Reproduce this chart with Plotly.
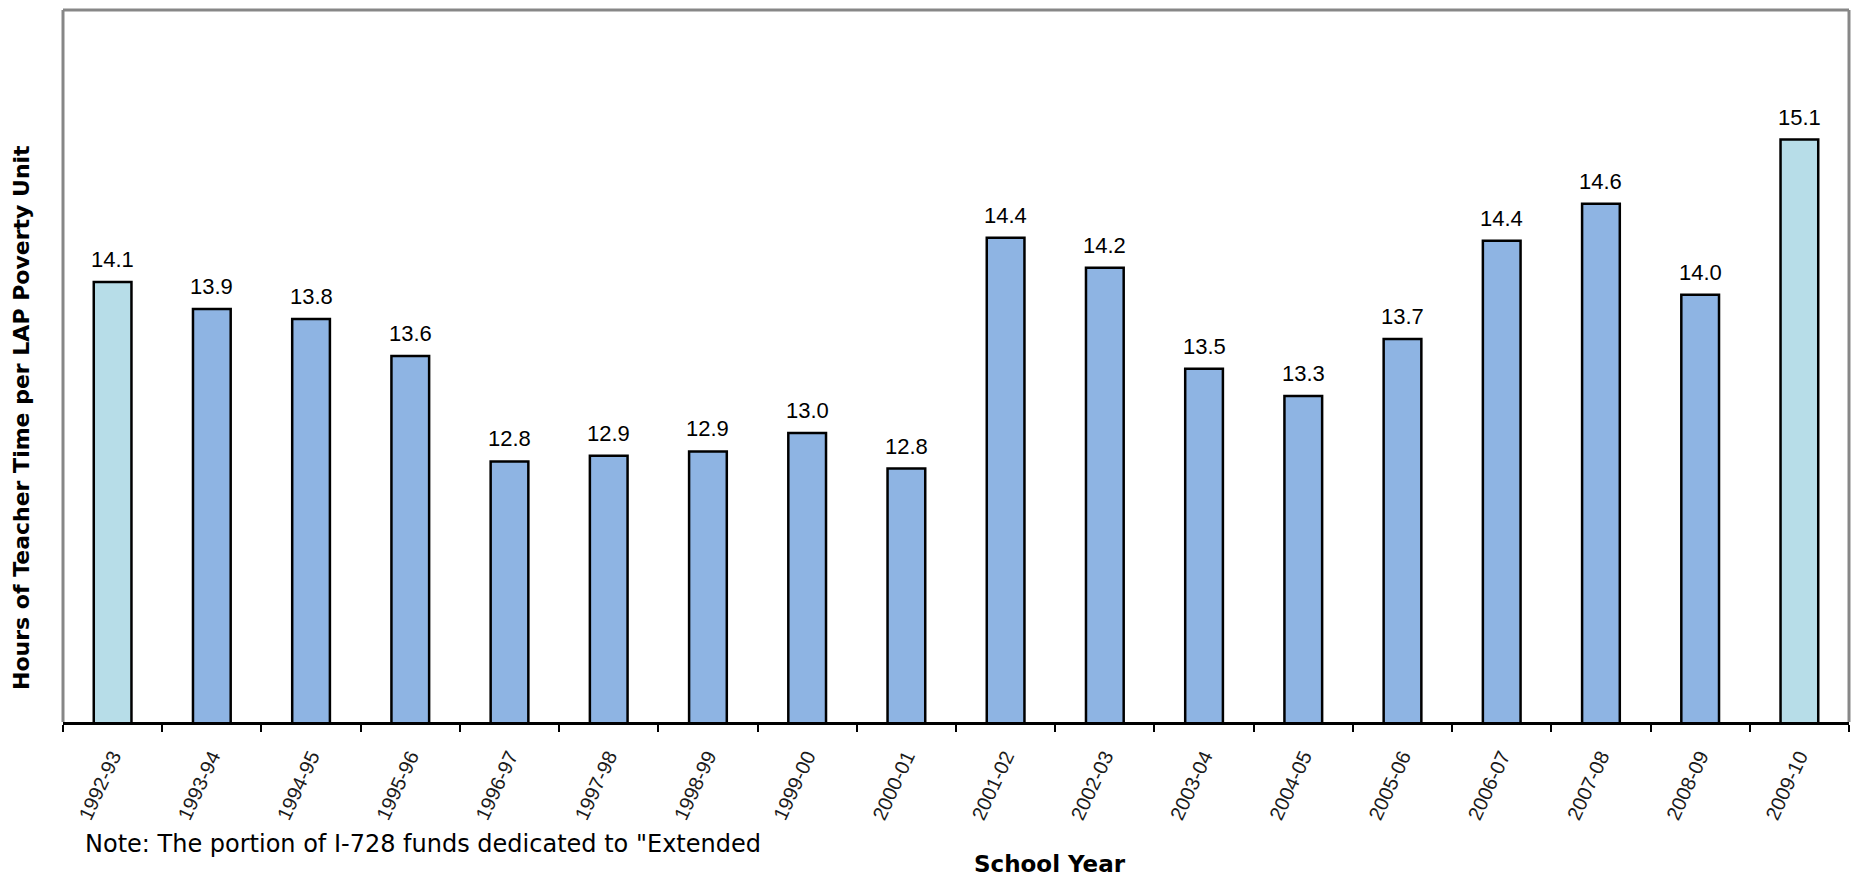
import plotly.graph_objects as go

# School years on the category axis
years = ["1992-93", "1993-94", "1994-95", "1995-96", "1996-97", "1997-98",
         "1998-99", "1999-00", "2000-01", "2001-02", "2002-03", "2003-04",
         "2004-05", "2005-06", "2006-07", "2007-08", "2008-09", "2009-10"]

# Hours of teacher time per LAP poverty unit
hours = [14.09, 13.90, 13.83, 13.57, 12.83, 12.87, 12.90, 13.03, 12.78,
         14.40, 14.19, 13.48, 13.29, 13.69, 14.38, 14.64, 14.00, 15.09]

# Years drawn in the lighter highlight colour
highlight_years = ["1992-93", "2009-10"]

BLUE = "#8EB4E3"
LIGHT = "#B7DDE8"
FONT = "Liberation Sans, Arial, sans-serif"
WIDE = "DejaVu Sans, Verdana, sans-serif"

colors = [LIGHT if y in highlight_years else BLUE for y in years]

fig = go.Figure()
fig.add_trace(go.Bar(
    x=years,
    y=hours,
    width=0.38,
    marker=dict(color=colors, line=dict(color="black", width=2.5)),
    hoverinfo="x+y",
))

# value labels above each bar
for yr, v in zip(years, hours):
    fig.add_annotation(
        x=yr, y=v, xref="x", yref="y",
        text=f"{v:.1f}", showarrow=False,
        yanchor="bottom", yshift=8,
        font=dict(family=FONT, size=22, color="black"),
    )

W, H = 1856, 877
ML, MR, MT, MB = 63, 7, 10, 155
plot_h = H - MT - MB
plot_w = W - ML - MR

fig.update_layout(
    width=W, height=H,
    margin=dict(l=ML, r=MR, t=MT, b=MB, pad=0),
    paper_bgcolor="white",
    plot_bgcolor="white",
    showlegend=False,
    font=dict(family=FONT, color="black"),
    xaxis=dict(
        type="category",
        tickson="boundaries",
        ticks="outside", ticklen=7, tickwidth=2, tickcolor="black",
        showline=True, linecolor="black", linewidth=3,
        tickangle=-65,
        ticklabelstandoff=12,
        tickfont=dict(family=FONT, size=20, color="#1a1a1a"),
        showgrid=False, zeroline=False,
        range=[-0.5, len(years) - 0.5],
    ),
    yaxis=dict(
        range=[11, 16],
        showticklabels=False, showgrid=False, zeroline=False,
        ticks="", showline=False,
    ),
)

# grey frame around the plot area (top, left, right)
fig.add_shape(type="line", xref="paper", yref="paper", x0=0, x1=0, y0=0, y1=1,
              line=dict(color="#878787", width=3))
fig.add_shape(type="line", xref="paper", yref="paper", x0=1, x1=1, y0=0, y1=1,
              line=dict(color="#878787", width=3))
fig.add_shape(type="line", xref="paper", yref="paper", x0=0, x1=1, y0=1, y1=1,
              line=dict(color="#878787", width=3))

# axis titles and note
fig.add_annotation(
    text="<b>Hours of Teacher Time per LAP Poverty Unit</b>",
    xref="paper", yref="paper",
    x=(21 - ML) / plot_w, y=(H - MB - 418) / plot_h,
    textangle=-90, showarrow=False,
    xanchor="center", yanchor="middle",
    font=dict(family=WIDE, size=22, color="black"),
)
fig.add_annotation(
    text="<b>School Year</b>",
    xref="paper", yref="paper",
    x=(1050 - ML) / plot_w, y=-(864 - (H - MB)) / plot_h,
    showarrow=False, xanchor="center", yanchor="middle",
    font=dict(family=WIDE, size=23, color="black"),
)
fig.add_annotation(
    text="Note: The portion of I-728 funds dedicated to \"Extended",
    xref="paper", yref="paper",
    x=(83 - ML) / plot_w, y=-(844 - (H - MB)) / plot_h,
    showarrow=False, xanchor="left", yanchor="middle",
    font=dict(family=WIDE, size=24, color="black"),
)

fig.write_html("out.html")
